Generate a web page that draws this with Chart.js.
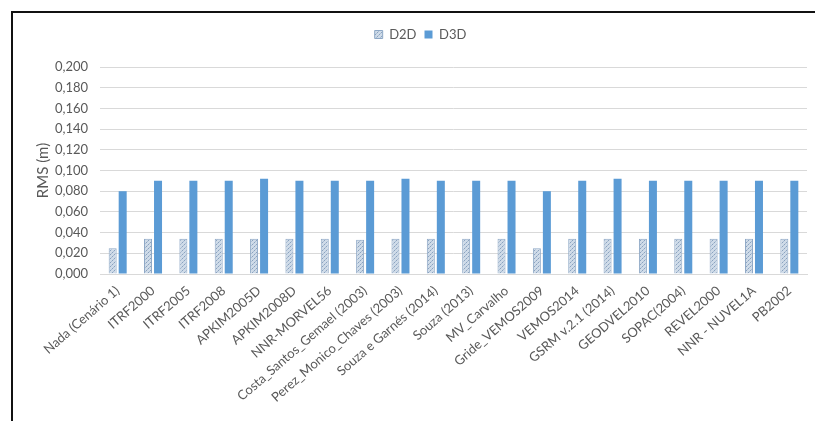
<!DOCTYPE html>
<html>
<head>
<meta charset="utf-8">
<script src="https://cdn.jsdelivr.net/npm/chart.js@4.4.1/dist/chart.umd.min.js"></script>
<style>
  html, body { margin: 0; padding: 0; background: #fff; }
  #wrap { width: 815px; height: 421px; position: relative; }
</style>
</head>
<body>
<div id="wrap"><canvas id="rms-chart"></canvas></div>
<script>
const categories = [
  "Nada (Cenário 1)", "ITRF2000", "ITRF2005", "ITRF2008", "APKIM2005D", "APKIM2008D",
  "NNR-MORVEL56", "Costa_Santos_Gemael (2003)", "Perez_Monico_Chaves (2003)",
  "Souza e Garnés (2014)", "Souza (2013)", "MV_Carvalho", "Gride_VEMOS2009", "VEMOS2014",
  "GSRM v.2.1 (2014)", "GEODVEL2010", "SOPAC(2004)", "REVEL2000", "NNR - NUVEL1A", "PB2002"
];
const d2d = [0.025, 0.034, 0.034, 0.034, 0.034, 0.034, 0.034, 0.033, 0.034, 0.034, 0.034, 0.034, 0.025, 0.034, 0.034, 0.034, 0.034, 0.034, 0.034, 0.034];
const d3d = [0.080, 0.090, 0.090, 0.090, 0.092, 0.090, 0.090, 0.090, 0.092, 0.090, 0.090, 0.090, 0.080, 0.090, 0.092, 0.090, 0.090, 0.090, 0.090, 0.090];
const seriesNames = ["D2D", "D3D"];

document.addEventListener("DOMContentLoaded", function () {
  const canvas = document.getElementById("rms-chart");
  const ctx = canvas.getContext("2d");

  // dotted fill like the excel pattern
  function makePattern() {
    const p = document.createElement("canvas");
    p.width = 4;
    p.height = 4;
    const pc = p.getContext("2d");
    pc.fillStyle = "#cfdbe8";
    pc.fillRect(0, 0, 4, 4);
    pc.fillStyle = "#8aa2bf";
    pc.fillRect(0, 0, 1, 1);
    pc.fillRect(2, 2, 1, 1);
    pc.fillStyle = "#a9bdd4";
    pc.fillRect(1, 3, 1, 1);
    pc.fillRect(3, 1, 1, 1);
    return ctx.createPattern(p, "repeat");
  }

  const framePlugin = {
    id: "frame",
    beforeDraw(chart) {
      const c = chart.ctx;
      c.save();
      c.fillStyle = "#fff";
      c.fillRect(0, 0, chart.width, chart.height);
      c.strokeStyle = "#111";
      c.lineWidth = 2;
      c.beginPath();
      c.moveTo(12, chart.height);
      c.lineTo(12, 12);
      c.lineTo(chart.width, 12);
      c.stroke();
      c.restore();
    },
  };

  // extra gap under the legend, and nudge it right like the original
  const legendGap = {
    id: "legendGap",
    beforeInit(chart) {
      const lg = chart.legend;
      const fit = lg.fit;
      lg.fit = function () {
        fit.bind(lg)();
        this.height += 16;
      };
      const draw = lg.draw;
      lg.draw = function () {
        this.ctx.save();
        this.ctx.translate(17, 0);
        draw.bind(lg)();
        this.ctx.restore();
      };
    },
  };

  const textColor = "#595959";
  const font = "Lato, 'Open Sans', sans-serif";

  new Chart(ctx, {
    type: "bar",
    data: {
      labels: categories,
      datasets: [
        {
          label: seriesNames[0],
          data: d2d,
          backgroundColor: makePattern(),
          borderColor: "#8ea8c6",
          borderWidth: 1,
          categoryPercentage: 0.566,
          barPercentage: 0.8,
        },
        {
          label: seriesNames[1],
          data: d3d,
          backgroundColor: "#5b9bd5",
          borderWidth: 0,
          categoryPercentage: 0.566,
          barPercentage: 0.8,
        },
      ],
    },
    options: {
      responsive: true,
      maintainAspectRatio: false,
      animation: false,
      layout: { padding: { top: 20, right: 8, bottom: 0, left: 0 } },
      plugins: {
        legend: {
          position: "top",
          labels: {
            boxWidth: 8,
            boxHeight: 8,
            padding: 8,
            color: textColor,
            font: { family: font, size: 13 },
          },
        },
        tooltip: { enabled: false },
      },
      scales: {
        x: {
          grid: { display: false, drawTicks: false },
          border: { display: true, color: "#d9d9d9" },
          ticks: {
            color: textColor,
            font: { family: font, size: 13 },
            minRotation: 41,
            maxRotation: 41,
            autoSkip: false,
            padding: 9,
          },
          afterFit(scale) {
            scale.height = 147;
          },
        },
        y: {
          min: 0,
          max: 0.2,
          grid: { color: "#d9d9d9", drawTicks: false },
          border: { display: false },
          ticks: {
            stepSize: 0.02,
            padding: 12,
            color: textColor,
            font: { family: font, size: 13 },
            callback: (v) => v.toFixed(3).replace(".", ","),
          },
          title: {
            display: true,
            text: "RMS (m)",
            color: textColor,
            font: { family: font, size: 15 },
            padding: { top: 34, bottom: 0 },
          },
          afterFit(scale) {
            scale.width = 100;
          },
        },
      },
    },
    plugins: [framePlugin, legendGap],
  });
});
</script>
</body>
</html>
